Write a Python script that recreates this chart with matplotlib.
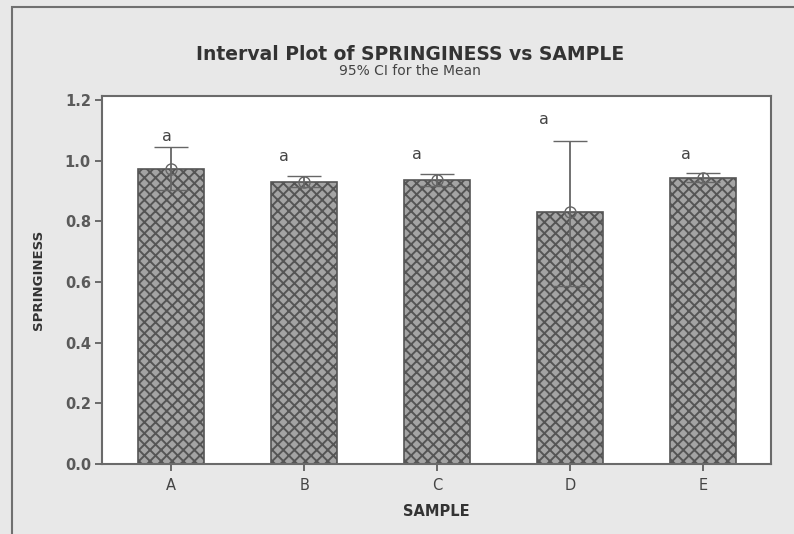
import numpy as np
import matplotlib.pyplot as plt
from matplotlib.patches import Rectangle

# data
samples = ['A', 'B', 'C', 'D', 'E']
means = [0.972, 0.930, 0.935, 0.829, 0.944]
ci_low = [0.904, 0.912, 0.915, 0.586, 0.930]
ci_high = [1.044, 0.948, 0.955, 1.066, 0.959]
letters = ['a', 'a', 'a', 'a', 'a']
letter_y = [1.08, 1.015, 1.02, 1.135, 1.02]
letter_dx = [-0.03, -0.15, -0.15, -0.20, -0.13]

plt.rcParams['hatch.color'] = '#5a5a5a'
plt.rcParams['hatch.linewidth'] = 1.4

fig = plt.figure(figsize=(7.94, 5.34), dpi=100, facecolor='#e8e8e8')
# outer frame (top and left visible)
fig.patches.append(Rectangle((12/794, -0.1), 1.2, (527+53.4)/534, transform=fig.transFigure,
                             fill=False, edgecolor='#707070', lw=1.5))

ax = fig.add_axes([102/794, 1-464/534, (771-102)/794, (464-96)/534])
x = np.arange(len(samples))
ax.bar(x, means, width=0.5, color='#a4a4a4', edgecolor='#555555', hatch='xxx', lw=1.2, zorder=2)

err = [np.array(means) - np.array(ci_low), np.array(ci_high) - np.array(means)]
ax.errorbar(x, means, yerr=err, fmt='o', mfc='none', mec='#666666', ms=8, mew=1.0,
            ecolor='#666666', elinewidth=1.3, capsize=12, capthick=1.5, zorder=3)

for i in range(len(samples)):
    ax.text(x[i] + letter_dx[i], letter_y[i], letters[i], ha='center', va='center',
            fontsize=11.5, color='#444444')

ax.set_xlim(-0.52, 4.51)
ax.set_ylim(0, 1.213)
ax.set_yticks([0.0, 0.2, 0.4, 0.6, 0.8, 1.0, 1.2])
ax.set_yticklabels(['0.0', '0.2', '0.4', '0.6', '0.8', '1.0', '1.2'])
ax.set_xticks(x)
ax.set_xticklabels(samples)
for s in ax.spines.values():
    s.set_color('#6a6a6a')
    s.set_linewidth(1.5)
ax.tick_params(axis='y', colors='#555555', labelsize=10.5, length=5, width=1.2, pad=3)
ax.tick_params(axis='x', colors='#555555', labelsize=10.5, length=5, width=1.2, pad=5)
for lab in ax.get_yticklabels():
    lab.set_fontweight('bold')
    lab.set_color('#5a5a5a')
for lab in ax.get_xticklabels():
    lab.set_color('#444444')

ax.set_ylabel('SPRINGINESS', fontsize=9.5, fontweight='bold', color='#333333', labelpad=14)
ax.set_xlabel('SAMPLE', fontsize=10.5, fontweight='bold', color='#333333', labelpad=8)

fig.text(410/794, 1-55/534, 'Interval Plot of SPRINGINESS vs SAMPLE', ha='center', va='center',
         fontsize=13.5, fontweight='bold', color='#333333')
fig.text(410/794, 1-71/534, '95% CI for the Mean', ha='center', va='center',
         fontsize=10, color='#444444')

fig.savefig('out.png', dpi=100, facecolor=fig.get_facecolor())
